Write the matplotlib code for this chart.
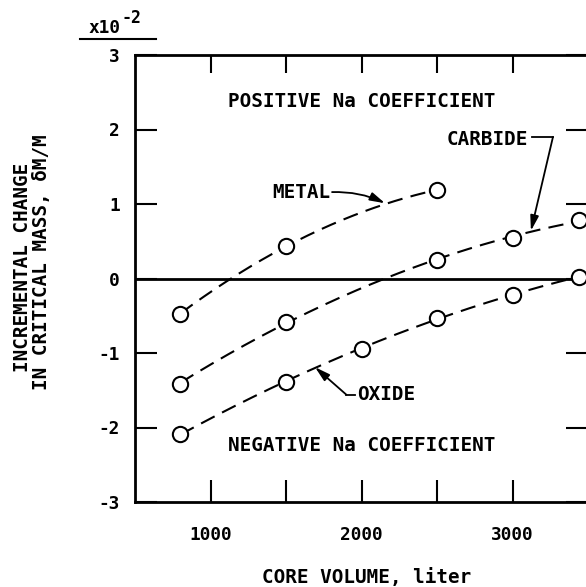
import numpy as np
import matplotlib
matplotlib.use("Agg")
import matplotlib.pyplot as plt
from matplotlib.lines import Line2D

plt.rcParams['font.family'] = ['DejaVu Sans Mono', 'DejaVu Sans']
plt.rcParams['font.weight'] = 'bold'
plt.rcParams['axes.unicode_minus'] = False
plt.rcParams['lines.scale_dashes'] = False

# core volume (liter) and incremental change in critical mass (x1e-2)
metal_x = [800, 1500, 2500]
metal_y = [-0.47, 0.43, 1.19]
carbide_x = [800, 1500, 2500, 3000, 3440]
carbide_y = [-1.41, -0.58, 0.25, 0.55, 0.78]
oxide_x = [800, 1500, 2000, 2500, 3000, 3440]
oxide_y = [-2.09, -1.39, -0.94, -0.53, -0.22, 0.02]

xticks = [1000, 1500, 2000, 2500, 3000]
xticklabels = ['1000', '', '2000', '', '3000']
yticks = [-3, -2, -1, 0, 1, 2, 3]

fig = plt.figure(figsize=(5.86, 5.87), dpi=100)
ax = fig.add_axes([135/586, 85/587, 453/586, 447/587])

ax.axhline(0, color='black', lw=2)

for xs, ys in [(metal_x, metal_y), (carbide_x, carbide_y), (oxide_x, oxide_y)]:
    c = np.polyfit(xs, ys, 2)
    xx = np.linspace(min(xs), max(xs), 200)
    ax.plot(xx, np.polyval(c, xx), color='black', lw=1.5, linestyle=(0, (11, 6)))
    ax.plot(xs, ys, 'o', ms=11, mfc='white', mec='black', mew=1.5, zorder=5)

ax.set_xlim(500, 3500)
ax.set_ylim(-3, 3)
ax.set_xticks(xticks)
ax.set_xticklabels(xticklabels)
ax.set_yticks(yticks)
ax.tick_params(direction='in', length=16, width=1.5, top=True, right=True,
               labelsize=12.8)
ax.tick_params(axis='x', pad=17)
ax.tick_params(axis='y', pad=11)
for t in ax.xaxis.get_major_ticks():
    t.tick2line.set_markersize(13)
for s in ax.spines.values():
    s.set_linewidth(2)

ax.text(2000, 2.38, 'POSITIVE Na COEFFICIENT', ha='center', va='center', size=13.9)
ax.text(2000, -2.24, 'NEGATIVE Na COEFFICIENT', ha='center', va='center', size=13.9)

arrow = dict(arrowstyle='-|>,head_length=0.9,head_width=0.25', color='black',
             lw=1.3, shrinkA=0, shrinkB=0)

ax.text(1795, 1.16, 'METAL', ha='right', va='center', size=13.9)
ax.annotate('', xy=(2156, 1.01), xytext=(1805, 1.16),
            arrowprops=dict(arrow, connectionstyle='arc3,rad=-0.12'))

ax.text(1970, -1.56, 'OXIDE', ha='left', va='center', size=13.9)
ax.plot([1955, 1900], [-1.56, -1.56], color='black', lw=1.3)
ax.annotate('', xy=(1692, -1.19), xytext=(1900, -1.56), arrowprops=arrow)

ax.text(3103, 1.86, 'CARBIDE', ha='right', va='center', size=13.9)
ax.plot([3129, 3268], [1.90, 1.90], color='black', lw=1.3)
ax.annotate('', xy=(3122, 0.64), xytext=(3268, 1.90), arrowprops=arrow)

fig.text(367/586, 1 - 577/587, 'CORE VOLUME, liter', ha='center', va='center', size=13.9)
fig.text(23/586, 1 - 267/587, 'INCREMENTAL CHANGE', rotation=90, ha='center', va='center', size=13.9)
fig.text(42/586, 1 - 262/587, 'IN CRITICAL MASS, δM/M', rotation=90, ha='center', va='center', size=13.9)

fig.text(89/586, 1 - 28/587, 'x10', ha='left', va='center', size=12.8)
fig.text(122/586, 1 - 18/587, '-2', ha='left', va='center', size=12)
fig.add_artist(Line2D([80/586, 156/586], [1 - 39/587, 1 - 39/587],
                      transform=fig.transFigure, color='black', lw=1.5))

fig.savefig('out.png', dpi=100)
